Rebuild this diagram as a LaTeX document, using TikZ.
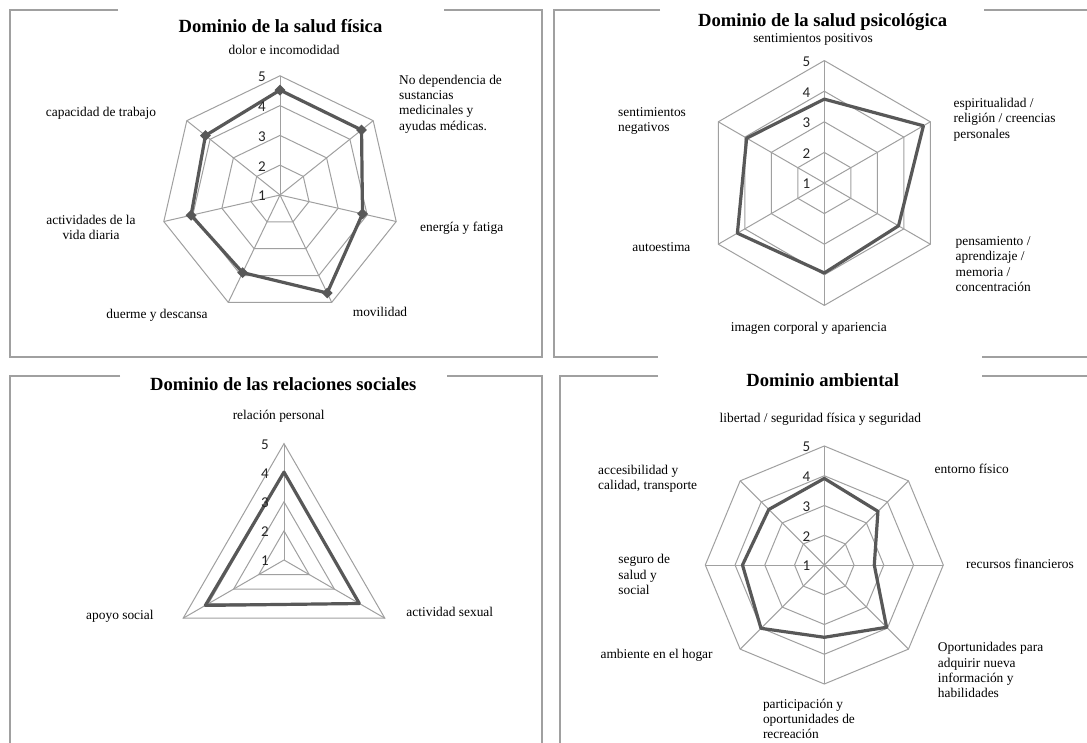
\documentclass[tikz,border=0pt]{standalone}
\usepackage{fontspec}
\setmainfont{Liberation Serif}
\newfontfamily\numfont{Carlito}
\usetikzlibrary{shapes.geometric}
\definecolor{gridgray}{RGB}{160,160,160}
\definecolor{datagray}{RGB}{88,88,88}
\definecolor{framegray}{RGB}{160,160,160}
\tikzstyle{panelframe} = [draw=framegray, line width=1.2pt]
\tikzstyle{gridline} = [draw=gridgray, line width=1pt]
\tikzstyle{dataline} = [draw=datagray, line width=3.2pt, line join=round]
\tikzstyle{diam} = [diamond, fill=datagray, inner sep=0pt, minimum size=11pt]
\tikzstyle{ttl} = [font=\fontsize{18.6}{22}\selectfont\bfseries, anchor=base, inner sep=0pt]
\tikzstyle{lbl} = [font=\fontsize{13.4}{15.3}\selectfont, inner sep=0pt]
\tikzstyle{lblw} = [lbl, anchor=west, align=left]
\tikzstyle{num} = [font=\numfont\fontsize{15}{16}\selectfont, text=black!85, inner sep=0pt]

\begin{document}
\begin{tikzpicture}[x=1pt, y=-1pt]
    \useasboundingbox (0,0) rectangle (1087,743);
    \fill[white] (0,0) rectangle (1087,743);

    % Borders
    \draw[panelframe] (118,10) -- (10,10) -- (10,357) -- (542,357) -- (542,10) -- (444,10);
    \draw[panelframe] (660,10) -- (554,10) -- (554,357) -- (658,357);
    \draw[panelframe] (984,10) -- (1087,10);
    \draw[panelframe] (982,357) -- (1087,357);
    \draw[panelframe] (120,376) -- (10,376) -- (10,743);
    \draw[panelframe] (447,376) -- (542,376) -- (542,743);
    \draw[panelframe] (658,376) -- (560,376) -- (560,743);
    \draw[panelframe] (982,376) -- (1087,376);

    % Titles
    \node[ttl] (titlefis) at (280.5,33) {Dominio de la salud física};
    \node[ttl] (titlepsi) at (822.7,26.7) {Dominio de la salud psicológica};
    \node[ttl] (titlesoc) at (283.3,390.5) {Dominio de las relaciones sociales};
    \node[ttl] (titleamb) at (822.7,386.7) {Dominio ambiental};

    % Salud fisica
    \begin{scope}[shift={(280,195)}]
        \foreach \r in {1,...,4}
            \draw[gridline] (-90:{\r*29.8}) \foreach \k in {1,...,6} { -- (-90+\k*360/7:{\r*29.8}) } -- cycle;
        \foreach \k in {0,...,6}
            \draw[gridline] (0,0) -- (-90+\k*360/7:119.2);
        \foreach \v [count=\k from 0] in {4.52,4.5,3.84,4.65,3.89,4.06,4.2}
            \coordinate (fis\k) at (-90+\k*360/7:{(\v-1)*29.8});
        \draw[dataline] (fis0) -- (fis1) -- (fis2) -- (fis3) -- (fis4) -- (fis5) -- (fis6) -- cycle;
        \foreach \k in {0,...,6}
            \node[diam] (fisdot\k) at (fis\k) {};
        \foreach \lev in {1,...,5}
            \node[num] (fisnum\lev) at (-18,{1-(\lev-1)*29.8}) {\lev};
    \end{scope}
    \node[lbl] (fislab0) at (284,50) {dolor e incomodidad};
    \node[lblw] (fislab1) at (399,104) {No dependencia de\\sustancias\\medicinales y\\ayudas médicas.};
    \node[lblw] (fislab2) at (420,228) {energía y fatiga};
    \node[lbl] (fislab3) at (380,312) {movilidad};
    \node[lbl] (fislab4) at (157,315) {duerme y descansa};
    \node[lbl, align=center] (fislab5) at (91,227.5) {actividades de la\\vida diaria};
    \node[lbl] (fislab6) at (101,113) {capacidad de trabajo};

    % Salud psicologica
    \begin{scope}[shift={(824.3,183)}]
        \foreach \r in {1,...,4}
            \draw[gridline] (-90:{\r*30.6}) \foreach \k in {1,...,5} { -- (-90+\k*60:{\r*30.6}) } -- cycle;
        \foreach \k in {0,...,5}
            \draw[gridline] (0,0) -- (-90+\k*60:122.4);
        \foreach \v [count=\k from 0] in {3.74,4.74,3.8,3.94,4.28,3.93}
            \coordinate (psi\k) at (-90+\k*60:{(\v-1)*30.6});
        \draw[dataline] (psi0) -- (psi1) -- (psi2) -- (psi3) -- (psi4) -- (psi5) -- cycle;
        \foreach \lev in {1,...,5}
            \node[num] (psinum\lev) at (-18,{1-(\lev-1)*30.6}) {\lev};
    \end{scope}
    \node[lbl] (psilab0) at (813,39.3) {sentimientos positivos};
    \node[lblw] (psilab1) at (953.4,119.5) {espiritualidad /\\religión / creencias\\personales};
    \node[lblw] (psilab2) at (955.5,264) {pensamiento /\\aprendizaje /\\memoria /\\concentración};
    \node[lbl] (psilab3) at (808.8,328) {imagen corporal y apariencia};
    \node[lbl] (psilab4) at (661.4,247.3) {autoestima};
    \node[lblw] (psilab5) at (618,121.3) {sentimientos\\negativos};

    % Relaciones sociales
    \begin{scope}[shift={(284,560)}]
        \foreach \r in {1,...,4}
            \draw[gridline] (-90:{\r*29.1}) -- (30:{\r*29.1}) -- (150:{\r*29.1}) -- cycle;
        \foreach \k in {0,...,2}
            \draw[gridline] (0,0) -- (-90+\k*120:116.5);
        \foreach \v [count=\k from 0] in {4.02,3.99,4.12}
            \coordinate (soc\k) at (-90+\k*120:{(\v-1)*29.1});
        \draw[dataline] (soc0) -- (soc1) -- (soc2) -- cycle;
        \foreach \lev in {1,...,5}
            \node[num] (socnum\lev) at (-19,{1-(\lev-1)*29.1}) {\lev};
    \end{scope}
    \node[lbl] (soclab0) at (278.7,416.7) {relación personal};
    \node[lbl] (soclab1) at (449.8,611.7) {actividad sexual};
    \node[lbl] (soclab2) at (119.9,616) {apoyo social};

    % Ambiental
    \begin{scope}[shift={(824.3,565)}]
        \foreach \r in {1,...,4}
            \draw[gridline] (-90:{\r*29.75}) \foreach \k in {1,...,7} { -- (-90+\k*45:{\r*29.75}) } -- cycle;
        \foreach \k in {0,...,7}
            \draw[gridline] (0,0) -- (-90+\k*45:119);
        \foreach \v [count=\k from 0] in {3.91,3.55,2.68,3.96,3.43,4.01,3.75,3.64}
            \coordinate (amb\k) at (-90+\k*45:{(\v-1)*29.75});
        \draw[dataline] (amb0) -- (amb1) -- (amb2) -- (amb3) -- (amb4) -- (amb5) -- (amb6) -- (amb7) -- cycle;
        \foreach \lev in {1,...,5}
            \node[num] (ambnum\lev) at (-18,{1-(\lev-1)*29.75}) {\lev};
    \end{scope}
    \node[lbl] (amblab0) at (820.3,419.3) {libertad / seguridad física y seguridad};
    \node[lblw] (amblab1) at (934.5,469) {entorno físico};
    \node[lblw] (amblab2) at (966,564) {recursos financieros};
    \node[lblw] (amblab3) at (937.7,670.3) {Oportunidades para\\adquirir nueva\\información y\\habilidades};
    \node[lblw] (amblab4) at (762.8,719) {participación y\\oportunidades de\\recreación};
    \node[lbl] (amblab5) at (656.6,655.7) {ambiente en el hogar};
    \node[lblw] (amblab6) at (618.2,574.7) {seguro de\\salud y\\social};
    \node[lblw] (amblab7) at (598,478.5) {accesibilidad y\\calidad, transporte};
\end{tikzpicture}
\end{document}
